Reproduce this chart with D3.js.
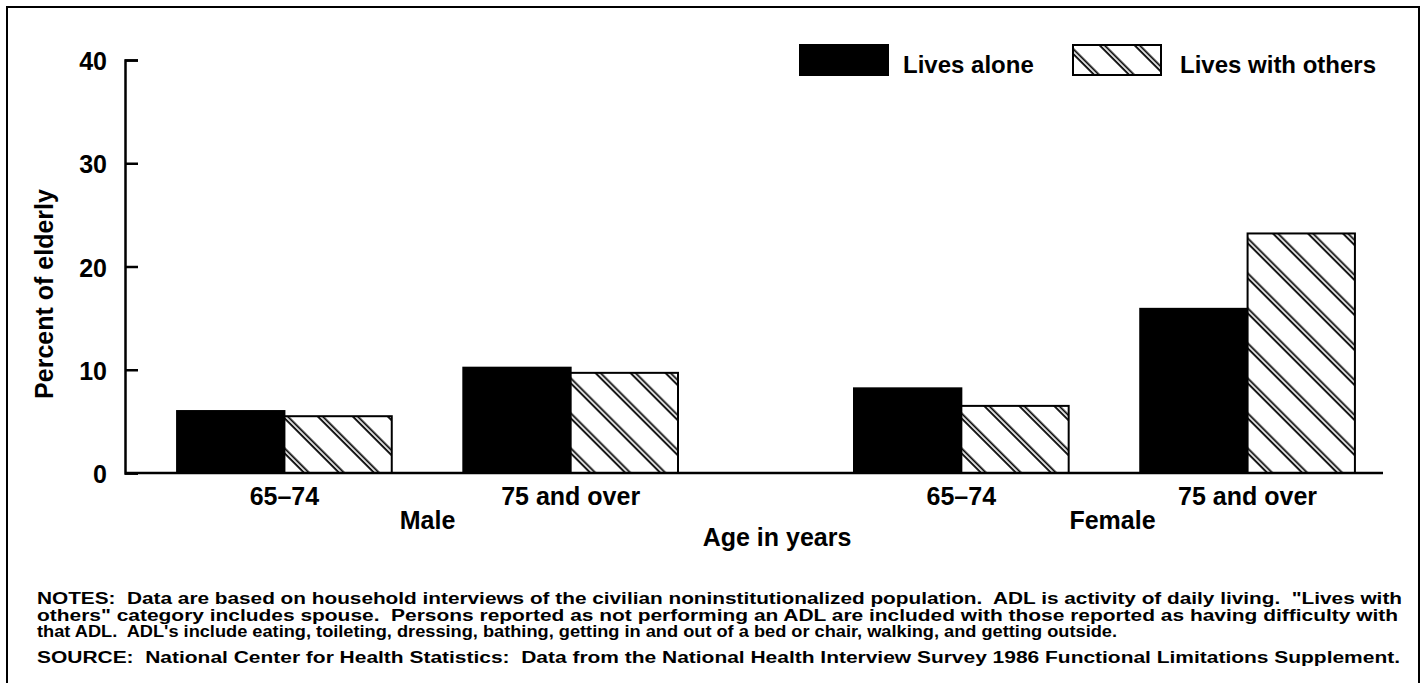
<!DOCTYPE html>
<html>
<head>
<meta charset="utf-8">
<script src="https://cdn.jsdelivr.net/npm/d3@7"></script>
<style>
  body { margin: 0; background: #fff; }
  text { font-family: "Liberation Sans", Arial, sans-serif; font-weight: bold; fill: #000; }
  text.note { white-space: pre; }
</style>
</head>
<body>
<script>
// values (percent)
var sexes = ["Male", "Female"];
var ages = ["65\u201374", "75 and over"];
var series = ["Lives alone", "Lives with others"];
var livesAlone = [6.0, 10.2, 8.2, 15.9];
var livesWithOthers = [5.5, 9.7, 6.5, 23.2];
var yTicks = [0, 10, 20, 30, 40];
var notes = [
  "NOTES:  Data are based on household interviews of the civilian noninstitutionalized population.  ADL is activity of daily living.  \"Lives with",
  "others\" category includes spouse.  Persons reported as not performing an ADL are included with those reported as having difficulty with",
  "that ADL.  ADL's include eating, toileting, dressing, bathing, getting in and out of a bed or chair, walking, and getting outside.",
  "SOURCE:  National Center for Health Statistics:  Data from the National Health Interview Survey 1986 Functional Limitations Supplement."
];
var noteLengths = [1365, 1361, 1080, 1363];
var noteY = [604, 620.5, 637, 663];

var width = 1423, height = 683;

var svg = d3.select("body").append("svg")
  .attr("width", width)
  .attr("height", height);

var defs = svg.append("defs");
var hatch = defs.append("pattern")
  .attr("id", "hatch")
  .attr("patternUnits", "userSpaceOnUse")
  .attr("width", 24.75)
  .attr("height", 24.75)
  .attr("patternTransform", "rotate(-45)");
hatch.append("rect").attr("width", 24.75).attr("height", 24.75).attr("fill", "#fff");
hatch.append("line").attr("x1", 3).attr("x2", 3).attr("y1", 0).attr("y2", 24.75)
  .attr("stroke", "#000").attr("stroke-width", 1.8);
hatch.append("line").attr("x1", 6.5).attr("x2", 6.5).attr("y1", 0).attr("y2", 24.75)
  .attr("stroke", "#000").attr("stroke-width", 1.8);

var fills = ["#000", "url(#hatch)"];

// outer frame
svg.append("rect")
  .attr("x", 7).attr("y", 7)
  .attr("width", 1412).attr("height", 700)
  .attr("fill", "none")
  .attr("stroke", "#000")
  .attr("stroke-width", 2);

var x0 = d3.scaleBand().domain(sexes).range([150, 1382]).paddingInner(0.26).paddingOuter(0.04);
var x1 = d3.scaleBand().domain(ages).range([0, x0.bandwidth()]).paddingInner(0.25);
var x2 = d3.scaleBand().domain(series).range([0, x1.bandwidth()]);
var y = d3.scaleLinear().domain([0, 40]).range([473, 60]);

var rows = [];
sexes.forEach(function (s, i) {
  ages.forEach(function (a, j) {
    rows.push({ sex: s, age: a, values: [livesAlone[i * 2 + j], livesWithOthers[i * 2 + j]] });
  });
});

// bars
var groups = svg.selectAll("g.group")
  .data(rows)
  .join("g")
  .attr("class", "group")
  .attr("transform", d => "translate(" + (x0(d.sex) + x1(d.age)) + ",0)");

groups.selectAll("rect")
  .data(d => d.values.map((v, k) => ({ key: series[k], value: v, k: k })))
  .join("rect")
  .attr("x", d => x2(d.key))
  .attr("y", d => y(d.value))
  .attr("width", x2.bandwidth())
  .attr("height", d => y(0) - y(d.value))
  .attr("fill", d => fills[d.k])
  .attr("stroke", "#000")
  .attr("stroke-width", 2);

// y axis, ticks pointing inward
var yAxis = svg.append("g")
  .attr("transform", "translate(125,0)")
  .call(d3.axisLeft(y).tickValues(yTicks).tickSize(-13).tickPadding(18));
yAxis.selectAll("path, line").attr("stroke", "#000").attr("stroke-width", 2.5);
yAxis.selectAll("text")
  .style("font-size", "25px")
  .attr("dy", "0.38em");

// x axis line
svg.append("line")
  .attr("x1", 125).attr("x2", 1383)
  .attr("y1", y(0)).attr("y2", y(0))
  .attr("stroke", "#000")
  .attr("stroke-width", 2.5);

// age labels
svg.selectAll("text.age")
  .data(rows)
  .join("text")
  .attr("class", "age")
  .attr("x", d => x0(d.sex) + x1(d.age) + x1.bandwidth() / 2)
  .attr("y", 505)
  .attr("text-anchor", "middle")
  .style("font-size", "25px")
  .text(d => d.age);

svg.selectAll("text.sex")
  .data(sexes)
  .join("text")
  .attr("class", "sex")
  .attr("x", d => x0(d) + x0.bandwidth() / 2 + (d == "Female" ? 8 : 0))
  .attr("y", 529)
  .attr("text-anchor", "middle")
  .style("font-size", "25px")
  .text(d => d);

svg.append("text")
  .attr("x", 777)
  .attr("y", 546)
  .attr("text-anchor", "middle")
  .style("font-size", "25px")
  .text("Age in years");

svg.append("text")
  .attr("transform", "translate(53,294) rotate(-90)")
  .attr("text-anchor", "middle")
  .style("font-size", "25px")
  .text("Percent of elderly");

// legend
var legendX = [800, 1073];
var legendTextX = [903, 1180];
var legend = svg.selectAll("g.legend")
  .data(series)
  .join("g")
  .attr("class", "legend");
legend.append("rect")
  .attr("x", (d, i) => legendX[i])
  .attr("y", 45)
  .attr("width", 88)
  .attr("height", 30)
  .attr("fill", (d, i) => fills[i])
  .attr("stroke", "#000")
  .attr("stroke-width", 2);
legend.append("text")
  .attr("x", (d, i) => legendTextX[i])
  .attr("y", 73)
  .style("font-size", "24px")
  .text(d => d);

// notes and source
svg.selectAll("text.note")
  .data(notes)
  .join("text")
  .attr("class", "note")
  .attr("xml:space", "preserve")
  .attr("x", 37)
  .attr("y", (d, i) => noteY[i])
  .attr("textLength", (d, i) => noteLengths[i])
  .attr("lengthAdjust", "spacingAndGlyphs")
  .style("font-size", "16px")
  .text(d => d);
</script>
</body>
</html>
